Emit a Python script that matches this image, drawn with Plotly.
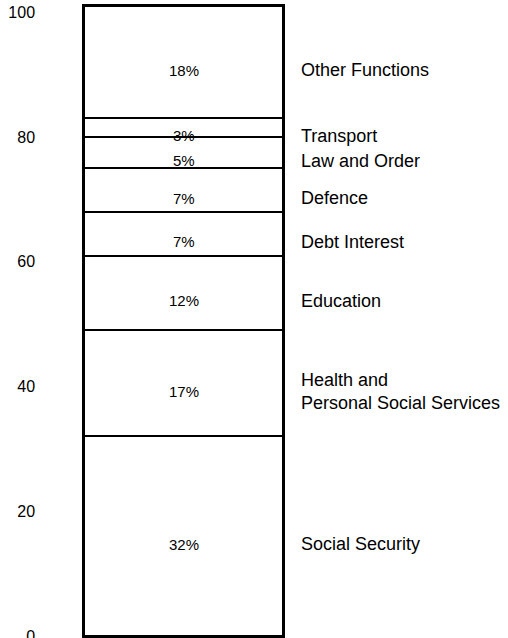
import plotly.graph_objects as go

# Public spending by function, share of total (%), stacked bottom to top
categories = [
    "Social Security",
    "Health and<br>Personal Social Services",
    "Education",
    "Debt Interest",
    "Defence",
    "Law and Order",
    "Transport",
    "Other Functions",
]
shares = [32, 17, 12, 7, 7, 5, 3, 18]
y_ticks = [0, 20, 40, 60, 80, 100]

INK = "#000000"
FONT = "Liberation Sans, Arial, Helvetica, sans-serif"

fig = go.Figure()
for name, v in zip(categories, shares):
    fig.add_trace(go.Bar(
        x=[0], y=[v], name=name, width=1,
        marker=dict(color="white", line=dict(color=INK, width=2)),
        hoverinfo="skip",
    ))

# percentage inside each block and the function name to the right
base = 0
for name, v in zip(categories, shares):
    mid = base + v / 2
    fig.add_annotation(
        x=0, y=mid, xref="x", yref="y", text=f"{v}%", showarrow=False,
        yshift=-8, font=dict(family=FONT, size=15, color=INK),
    )
    fig.add_annotation(
        x=0.5, y=mid, xref="x", yref="y", text=name, showarrow=False,
        xanchor="left", align="left", xshift=16, yshift=-8,
        font=dict(family=FONT, size=18, color=INK),
    )
    base += v

fig.update_layout(
    width=508, height=638,
    margin=dict(l=84, r=225, t=6, b=2, autoexpand=False),
    barmode="stack",
    showlegend=False,
    plot_bgcolor="white",
    paper_bgcolor="white",
    font=dict(family=FONT, color=INK),
)
fig.update_xaxes(
    range=[-0.5, 0.5], showticklabels=False, showgrid=False, zeroline=False,
    showline=True, mirror=True, linecolor=INK, linewidth=1.5, automargin=False,
)
fig.update_yaxes(
    range=[0, sum(shares)], tickvals=y_ticks, ticks="", showgrid=False,
    zeroline=False, showline=True, mirror=True, linecolor=INK, linewidth=1.5,
    ticklabelstandoff=44, ticklabeloverflow="allow", automargin=False,
    tickfont=dict(family=FONT, size=16, color=INK),
)

fig.write_html("out.html")
